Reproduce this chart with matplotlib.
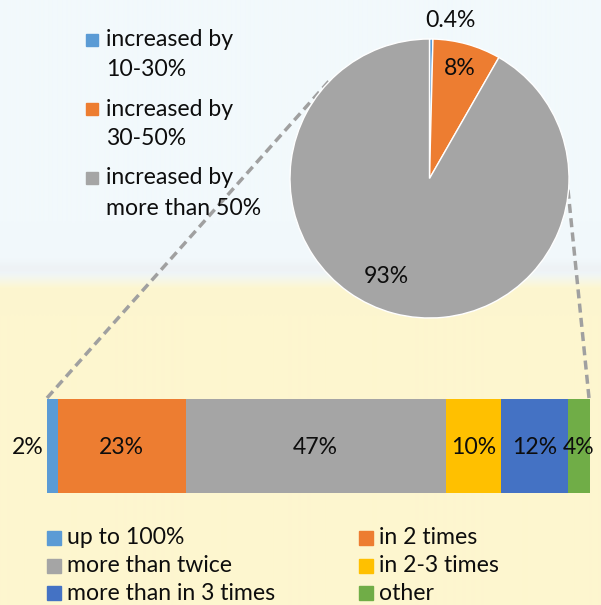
import numpy as np
import matplotlib
matplotlib.use("Agg")
import matplotlib.pyplot as plt
from matplotlib.patches import Rectangle
from matplotlib.lines import Line2D

plt.rcParams['font.family'] = ['Lato', 'DejaVu Sans']
plt.rcParams['lines.scale_dashes'] = False

# ---------------- data ----------------
pie_labels = ["increased by\n10-30%", "increased by\n30-50%", "increased by\nmore than 50%"]
pie_values = [0.4, 8, 93]
pie_text = ["0.4%", "8%", "93%"]
pie_colors = ["#5B9BD5", "#ED7D31", "#A5A5A5"]

bar_labels = ["up to 100%", "in 2 times", "more than twice", "in 2-3 times",
              "more than in 3 times", "other"]
bar_values = [2, 23, 47, 10, 12, 4]
bar_text = ["2%", "23%", "47%", "10%", "12%", "4%"]
bar_colors = ["#5B9BD5", "#ED7D31", "#A5A5A5", "#FFC000", "#4472C4", "#70AD47"]

W, H = 601, 605
fig = plt.figure(figsize=(W / 100, H / 100), dpi=100)

def fx(x):
    return x / W

def fy(y):
    return 1 - y / H

FS = 16.6
TXT = "#0d0d0d"

# ---------------- background ----------------
ax_bg = fig.add_axes([0, 0, 1, 1], zorder=-10)
rows = np.arange(H)
top = np.array([242, 249, 252]) / 255
yel = np.array([253, 246, 207]) / 255
t = np.clip((rows - 272) / 16.0, 0, 1)[:, None]
col = top * (1 - t) + yel * t
# faint wire band
band = np.exp(-((rows - 268) / 8.0) ** 2)[:, None]
wire = np.array([232, 233, 236]) / 255
col = col * (1 - 0.4 * band) + wire * 0.4 * band
img = np.repeat(col[:, None, :], 2, axis=1)
ax_bg.imshow(img, aspect="auto", extent=[0, 1, 0, 1], interpolation="bilinear")
ax_bg.set_axis_off()

# ---------------- connector dashed lines ----------------
dash_kw = dict(color="#A0A0A0", lw=2.5, linestyle=(0, (6.5, 3.8)),
               transform=fig.transFigure, zorder=-5)
fig.lines.append(Line2D([fx(47), fx(330)], [fy(398), fy(80)], **dash_kw))
fig.lines.append(Line2D([fx(589), fx(566)], [fy(398), fy(170)], **dash_kw))

# ---------------- pie ----------------
cx, cy, r = 429.5, 178.5, 139.5
ax_pie = fig.add_axes([fx(cx - r), fy(cy + r), 2 * r / W, 2 * r / H], zorder=1)
ax_pie.pie(pie_values, colors=pie_colors, startangle=90, counterclock=False,
           radius=1.0, wedgeprops=dict(edgecolor="white", linewidth=1.0))
ax_pie.set_xlim(-1, 1)
ax_pie.set_ylim(-1, 1)
ax_pie.set_aspect("equal")
ax_pie.set_axis_off()
pie_label_pos = [(0.15, 1.13), (0.22, 0.79), (-0.31, -0.70)]
for (px, py), s in zip(pie_label_pos, pie_text):
    ax_pie.text(px, py, s, ha="center", va="center", fontsize=FS, color=TXT,
                clip_on=False)

# ---------------- stacked bar ----------------
ax_bar = fig.add_axes([fx(47), fy(493), 543 / W, 94 / H], zorder=1)
lefts = np.concatenate([[0], np.cumsum(bar_values)[:-1]])
ax_bar.barh(0, bar_values, left=lefts, height=1.0, color=bar_colors, linewidth=0)
ax_bar.set_xlim(0, sum(bar_values))
ax_bar.set_ylim(-0.5, 0.5)
ax_bar.set_axis_off()
for i, (l, v, s) in enumerate(zip(lefts, bar_values, bar_text)):
    if i == 0:
        ax_bar.annotate(s, xy=(l, 0), xytext=(-3, -2), textcoords="offset pixels",
                        ha="right", va="center", fontsize=FS, color=TXT)
    else:
        ax_bar.annotate(s, xy=(l + v / 2, 0), xytext=(0, -2), textcoords="offset pixels",
                        ha="center", va="center", fontsize=FS, color=TXT)

# ---------------- top legend (pie) ----------------
top_rows = [40, 109, 178]
for yc, lab, c in zip(top_rows, pie_labels, pie_colors):
    fig.patches.append(Rectangle((fx(86), fy(yc + 6)), 12 / W, 12 / H, color=c,
                                 transform=fig.transFigure, figure=fig))
    for k, line in enumerate(lab.split("\n")):
        fig.text(fx(106), fy(yc + 30 * k), line, ha="left", va="center",
                 fontsize=FS, color=TXT)

# ---------------- bottom legend (bar) ----------------
order_pos = [(47, 538), (359, 538), (47, 566), (359, 566), (47, 593), (359, 593)]
for (x0, yc), lab, c in zip(order_pos, bar_labels, bar_colors):
    fig.patches.append(Rectangle((fx(x0), fy(yc + 7)), 14 / W, 14 / H, color=c,
                                 transform=fig.transFigure, figure=fig))
    fig.text(fx(x0 + 20), fy(yc), lab, ha="left", va="center", fontsize=FS, color=TXT)

fig.savefig("out.png", dpi=100)
